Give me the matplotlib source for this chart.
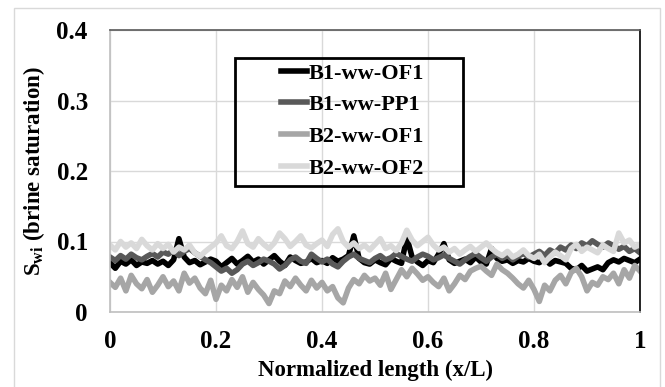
import numpy as np
import matplotlib
matplotlib.use("Agg")
import matplotlib.pyplot as plt
from matplotlib.patches import Rectangle

# brine saturation along normalized core length
x_pos = np.linspace(0, 1, 101)

b1_of1 = [0.070, 0.062, 0.072, 0.068, 0.074, 0.066, 0.071, 0.069, 0.073, 0.068,
          0.072, 0.066, 0.074, 0.104, 0.078, 0.070, 0.073, 0.067, 0.071, 0.075,
          0.072, 0.064, 0.070, 0.076, 0.068, 0.073, 0.079, 0.071, 0.075, 0.068,
          0.074, 0.080, 0.072, 0.066, 0.078, 0.073, 0.069, 0.071, 0.076, 0.070,
          0.073, 0.069, 0.077, 0.072, 0.075, 0.080, 0.108, 0.076, 0.070, 0.068,
          0.074, 0.070, 0.067, 0.076, 0.072, 0.069, 0.106, 0.078, 0.071, 0.066,
          0.073, 0.070, 0.082, 0.097, 0.074, 0.069, 0.072, 0.075, 0.070, 0.078,
          0.071, 0.068, 0.090, 0.076, 0.072, 0.074, 0.069, 0.073, 0.071, 0.076,
          0.072, 0.070, 0.075, 0.068, 0.073, 0.071, 0.069, 0.062, 0.060, 0.066,
          0.058, 0.061, 0.064, 0.060, 0.070, 0.074, 0.071, 0.076, 0.073, 0.070, 0.075]

b1_pp1 = [0.078, 0.073, 0.080, 0.075, 0.082, 0.077, 0.074, 0.079, 0.083, 0.078,
          0.085, 0.082, 0.088, 0.080, 0.086, 0.090, 0.084, 0.079, 0.074, 0.070,
          0.064, 0.058, 0.062, 0.055, 0.060, 0.068, 0.072, 0.066, 0.070, 0.075,
          0.072, 0.068, 0.061, 0.066, 0.074, 0.078, 0.072, 0.069, 0.082, 0.076,
          0.071, 0.075, 0.068, 0.064, 0.072, 0.078, 0.082, 0.076, 0.073, 0.070,
          0.076, 0.080, 0.074, 0.077, 0.083, 0.079, 0.075, 0.072, 0.078, 0.082,
          0.079, 0.074, 0.077, 0.081, 0.076, 0.072, 0.068, 0.074, 0.079, 0.083,
          0.077, 0.072, 0.078, 0.082, 0.076, 0.080, 0.074, 0.079, 0.083, 0.078,
          0.082, 0.086, 0.080, 0.088, 0.084, 0.092, 0.088, 0.095, 0.090, 0.098,
          0.094, 0.101, 0.096, 0.092, 0.098, 0.094, 0.089, 0.093, 0.086, 0.090, 0.084]

b2_of1 = [0.042, 0.035, 0.048, 0.030, 0.052, 0.040, 0.033, 0.046, 0.028, 0.038,
          0.050, 0.036, 0.044, 0.030, 0.055, 0.041, 0.048, 0.034, 0.026, 0.045,
          0.018, 0.038, 0.030, 0.046, 0.035, 0.050, 0.028, 0.042, 0.032, 0.024,
          0.012, 0.030, 0.026, 0.044, 0.036, 0.048, 0.038, 0.030, 0.045, 0.034,
          0.042, 0.030, 0.036, 0.020, 0.013, 0.034, 0.046, 0.040, 0.052, 0.044,
          0.048, 0.038, 0.055, 0.032, 0.046, 0.060, 0.050, 0.062, 0.054, 0.045,
          0.050, 0.042, 0.036, 0.048, 0.030, 0.040, 0.052, 0.046, 0.058, 0.062,
          0.065, 0.058, 0.052, 0.068, 0.060, 0.055, 0.048, 0.040, 0.034, 0.045,
          0.032, 0.015, 0.038, 0.030, 0.045, 0.052, 0.040, 0.056, 0.062, 0.050,
          0.030, 0.042, 0.038, 0.050, 0.046, 0.055, 0.040, 0.060, 0.048, 0.066, 0.058]

b2_of2 = [0.095, 0.088, 0.100, 0.092, 0.098, 0.090, 0.103, 0.094, 0.088, 0.097,
          0.090, 0.096, 0.085, 0.092, 0.088, 0.095, 0.084, 0.079, 0.086, 0.092,
          0.098, 0.108, 0.094, 0.090, 0.100, 0.115, 0.097, 0.092, 0.104, 0.096,
          0.090, 0.098, 0.112, 0.104, 0.093, 0.100, 0.108, 0.095, 0.091, 0.097,
          0.102, 0.093, 0.110, 0.118, 0.100, 0.092, 0.098, 0.090, 0.095, 0.088,
          0.096, 0.104, 0.090, 0.094, 0.087, 0.098, 0.116, 0.102, 0.094, 0.100,
          0.106, 0.095, 0.088, 0.092, 0.085, 0.090, 0.082, 0.088, 0.093, 0.086,
          0.092, 0.098, 0.090, 0.084, 0.080, 0.086, 0.078, 0.082, 0.088, 0.080,
          0.076, 0.082, 0.070, 0.078, 0.085, 0.080, 0.074, 0.090, 0.096, 0.086,
          0.092, 0.088, 0.084, 0.095, 0.090, 0.086, 0.112, 0.098, 0.102, 0.092, 0.096]

names = ["B1-ww-OF1", "B1-ww-PP1", "B2-ww-OF1", "B2-ww-OF2"]
colors = ["#000000", "#595959", "#a6a6a6", "#d9d9d9"]

plt.rcParams['font.family'] = ['Liberation Serif', 'DejaVu Serif']
plt.rcParams['font.weight'] = 'bold'
plt.rcParams['mathtext.fontset'] = 'custom'
plt.rcParams['mathtext.rm'] = 'Liberation Serif:bold'
plt.rcParams['mathtext.bf'] = 'Liberation Serif:bold'

W, H = 665, 387
fig = plt.figure(figsize=(W / 100, H / 100), dpi=100)
ax = fig.add_axes([110/W, 1 - 312/H, 530/W, 282/H])

for ys, nm, c in zip([b1_of1, b1_pp1, b2_of1, b2_of2], names, colors):
    ax.plot(x_pos, ys, color=c, lw=4, label=nm, solid_joinstyle='round')

ax.set_xlim(0, 1)
ax.set_ylim(0, 0.4)
ax.set_xticks([0, 0.2, 0.4, 0.6, 0.8, 1])
ax.set_xticklabels(["0", "0.2", "0.4", "0.6", "0.8", "1"])
ax.set_yticks([0, 0.1, 0.2, 0.3, 0.4])
ax.set_yticklabels(["0", "0.1", "0.2", "0.3", "0.4"])
ax.tick_params(axis='y', length=0, labelsize=18, pad=16)
ax.tick_params(axis='x', length=0, labelsize=18, pad=13)
ax.grid(True, color="#d9d9d9", lw=1)
ax.set_axisbelow(True)

ax.spines['left'].set_color("#bfbfbf")
ax.spines['bottom'].set_color("#bfbfbf")
ax.spines['top'].set_color("#595959")
ax.spines['right'].set_color("#000000")
for s in ax.spines.values():
    s.set_linewidth(1.2)

ax.set_xlabel("Normalized length (x/L)", fontsize=16.5, fontweight='bold', labelpad=5)
ax.set_ylabel(r"S$_{\mathrm{wi}}$ (brine saturation)", fontsize=16.5, fontweight='bold', labelpad=7)

leg = fig.legend(loc='upper left', bbox_to_anchor=(281/W, 1 - 63/H), fontsize=16,
                 frameon=False, handlelength=1.15, handletextpad=0.1,
                 labelspacing=0.5, borderpad=0, borderaxespad=0)
for t in leg.get_texts():
    t.set_fontweight('bold')

# Excel-style legend box with wide inner margins
fig.patches.append(Rectangle((235/W, 1 - 186/H), 228/W, 128/H, transform=fig.transFigure,
                             fill=False, edgecolor="black", lw=2, zorder=5))

# outer chart border (bottom edge runs off the picture)
fig.patches.append(Rectangle((14/W, -0.05), 646/W, 1.05 - 8/H, transform=fig.transFigure,
                             fill=False, edgecolor="#d9d9d9", lw=1))

fig.savefig("out.png", dpi=100)
